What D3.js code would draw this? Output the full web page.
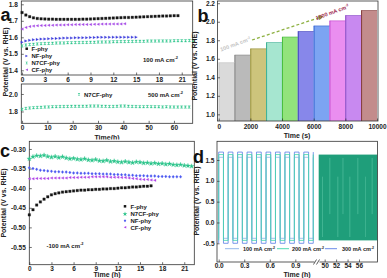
<!DOCTYPE html>
<html><head><meta charset="utf-8">
<script src="https://cdn.jsdelivr.net/npm/d3@7"></script>
<style>
body{margin:0;background:#fff}
svg{display:block}
text{font-family:"Liberation Sans",Arial,sans-serif;font-weight:bold}
</style>
</head><body>
<svg id="chart" width="387" height="278"></svg>
<script>
// ---------------- DATA ----------------
// Panel a (top): 100 mA cm-2, sampled every 0.5 h
const aStep = 0.5;
const aF = [1.750,1.735,1.725,1.718,1.714,1.712,1.711,1.710,1.710,1.709,1.709,1.709,1.709,1.709,1.709,1.709,1.710,1.710,1.711,1.712,1.713,1.714,1.715,1.716,1.717,1.718,1.719,1.720,1.720,1.721,1.722,1.723,1.724,1.725,1.726,1.727,1.728,1.729,1.729,1.730,1.731,1.731];
const aNF = [1.570,1.578,1.582,1.585,1.587,1.589,1.590,1.591,1.592,1.593,1.594,1.595,1.596,1.596,1.597,1.597,1.598,1.598,1.599,1.599,1.600,1.600,1.600,1.600,1.601,1.601,1.601,1.601,1.601,1.601,1.601];
const aN7CF = [1.548,1.553,1.556,1.558,1.560,1.561,1.562,1.563,1.564,1.565,1.566,1.566,1.567,1.567,1.568,1.568,1.569,1.569,1.570,1.570,1.571,1.571,1.572,1.572,1.573,1.573,1.574,1.574,1.575,1.575,1.576,1.576,1.576,1.577,1.577,1.577,1.578,1.578,1.578,1.578,1.579,1.579,1.579,1.579,1.580,1.580];
const aCF = [1.650,1.660,1.665,1.668,1.670,1.671,1.672,1.673,1.673,1.674,1.675,1.675,1.676,1.676,1.677,1.677,1.678,1.678,1.678,1.679,1.679,1.680,1.680,1.680,1.681,1.681,1.681,1.682];
// Panel a (bottom): N7CF-phy at 500 mA cm-2, sampled every 1.5 h
const a500Step = 1.5;
const a500 = [1.825,1.835,1.840,1.843,1.846,1.848,1.850,1.852,1.854,1.855,1.856,1.857,1.858,1.859,1.860,1.860,1.861,1.861,1.862,1.862,1.862,1.861,1.859,1.857,1.858,1.860,1.862,1.862,1.860,1.858,1.856,1.855,1.855,1.856,1.855,1.854,1.853,1.852,1.853,1.852,1.851,1.850,1.851,1.850,1.850];

// Panel b: multi-step chronopotentiometry
const bStarts = [0,1000,2000,3000,4000,5000,6000,7000,8000,9000];
const bValues = [1.558,1.640,1.708,1.775,1.835,1.895,1.955,2.010,2.068,2.122];
const bFills = ['#dadada','#bababa','#cdc47c','#a6e6d0','#92e37c','#8787ea','#7ca4f2','#ea8ef0','#c889f0','#c38c8c'];
const bEdges = ['#c4c4c4','#7a7a7a','#928c32','#2aa88a','#3cb834','#3a3ab8','#3060d0','#c040c8','#8040c0','#7a3030'];

// Panel c: -100 mA cm-2, sampled every 0.5 h
const cStep = 0.5;
const cF = [-0.468,-0.455,-0.443,-0.435,-0.428,-0.422,-0.417,-0.414,-0.412,-0.410,-0.409,-0.408,-0.407,-0.406,-0.405,-0.405,-0.404,-0.404,-0.403,-0.403,-0.402,-0.402,-0.401,-0.401,-0.400,-0.399,-0.399,-0.398,-0.397,-0.397,-0.396,-0.395,-0.395,-0.394];
const cN7CF = [-0.325,-0.320,-0.317,-0.318,-0.316,-0.319,-0.321,-0.319,-0.322,-0.320,-0.323,-0.325,-0.324,-0.326,-0.327,-0.325,-0.328,-0.329,-0.327,-0.330,-0.331,-0.329,-0.332,-0.331,-0.333,-0.334,-0.332,-0.334,-0.335,-0.333,-0.334,-0.336,-0.335,-0.337,-0.336,-0.338,-0.337,-0.339,-0.338,-0.340,-0.341,-0.340,-0.342,-0.343,-0.344];
const cNF = [-0.348,-0.350,-0.352,-0.354,-0.355,-0.356,-0.357,-0.358,-0.358,-0.359,-0.359,-0.360,-0.361,-0.361,-0.362,-0.362,-0.362,-0.363,-0.363,-0.363,-0.364,-0.364,-0.364,-0.365,-0.365,-0.366,-0.366,-0.367,-0.367,-0.368,-0.368,-0.368,-0.369,-0.369,-0.369,-0.370,-0.370,-0.370,-0.371,-0.371,-0.371,-0.371];
const cCF = [-0.376,-0.376,-0.375,-0.375,-0.375,-0.375,-0.374,-0.374,-0.374,-0.374,-0.374,-0.373,-0.373,-0.373,-0.372,-0.372,-0.372,-0.371,-0.371,-0.371,-0.371,-0.371,-0.372,-0.372,-0.372,-0.373,-0.373,-0.374,-0.375,-0.376,-0.377,-0.378,-0.378,-0.379,-0.380];

// Panel d: switching OER/HER cycles (h)
const dSwitch = [0,0.056,0.111,0.167,0.222,0.278,0.333,0.389,0.444,0.500,0.556,0.611,0.667,0.722,0.778,0.833,0.889,0.944,1.000,1.056,1.111];
const dLabels = ['100 mA cm','200 mA cm','300 mA cm'];
const dHigh = [1.565,1.630,1.690];
const dLow = [-0.380,-0.430,-0.500];
const dColors = ['#8ab0ea','#40d6aa','#5b7de6'];
const dDense = [48.95,59.2];            // long-term segment (h)
const dDenseLevels = [1.630,-0.430];
const dStripes = [49.6,50.9,52.3,53.2,54.4,55.8,57.1,58.3];

// tick labels
const aTopXTicks=[0,3,6,9,12,15,18,21], aTopYTicks=[1.4,1.5,1.6,1.7,1.8];
const aBotXTicks=[0,10,20,30,40,50,60], aBotYTicks=[1.8,2.0];
const bXTicks=[0,2000,4000,6000,8000,10000], bYTicks=[1.0,1.2,1.4,1.6,1.8,2.0,2.2];
const cXTicks=[0,3,6,9,12,15,18,21], cYTicks=[-0.55,-0.50,-0.45,-0.40,-0.35,-0.30];
const dX1Ticks=[0,0.3,0.6,0.9], dX2Ticks=[50,52,54,56], dYTicks=[-0.5,0.0,0.5,1.0,1.5];

// ---------------- DRAW ----------------
const svg = d3.select('#chart');
const FONT = '"Liberation Sans",Arial,sans-serif';
const COL = {F:'#151515', NF:'#3c3cdc', N7CF:'#2bc48a', CF:'#a64be6'};

const r = 1.25;
const SYM = {
  square: `M${-r},${-r}h${2*r}v${2*r}h${-2*r}Z`,
  triR: `M${-r},${-r}L${r},0L${-r},${r}Z`,
  triL: `M${r},${-r}L${-r},0L${r},${r}Z`,
  bow: `M${-r},${-r}L${r},${-r}L${-r},${r}L${r},${r}Z`,
  diamond: `M0,${-r*1.2}L${r},0L0,${r*1.2}L${-r},0Z`,
  star: d3.symbol(d3.symbolStar, 7)()
};

function frame(x0,y0,x1,y1){
  svg.append('rect').attr('x',x0).attr('y',y0).attr('width',x1-x0).attr('height',y1-y0)
    .attr('fill','none').attr('stroke','#333').attr('stroke-width',0.8);
}
function axis(scale, orient, ticks, fmt, pad, tx, ty, fs){
  const gen = (orient==='left'?d3.axisLeft:d3.axisBottom)(scale)
    .tickValues(ticks).tickFormat(fmt).tickSizeInner(-2.5).tickSizeOuter(0).tickPadding(pad);
  const g = svg.append('g').attr('transform',`translate(${tx},${ty})`).call(gen);
  g.attr('font-family',FONT).attr('font-size',fs||6.5).attr('font-weight','bold');
  g.select('.domain').remove();
  g.selectAll('line').attr('stroke','#333').attr('stroke-width',0.7);
  g.selectAll('text').attr('fill','#222');
  return g;
}
function ylabel(x,y,txt){
  svg.append('text').attr('transform',`translate(${x},${y}) rotate(-90)`).attr('text-anchor','middle')
    .attr('font-size',7).attr('fill','#222').text(txt);
}
function xlabel(x,y,txt){
  svg.append('text').attr('x',x).attr('y',y).attr('text-anchor','middle').attr('font-size',7).attr('fill','#222').text(txt);
}
function letter(x,y,t){
  svg.append('text').attr('x',x).attr('y',y).attr('font-size',18).attr('fill','#111').text(t);
}
function unitText(x,y,base,fs,color,rot){
  const t = svg.append('text').attr('x',x).attr('y',y).attr('font-size',fs).attr('fill',color||'#222');
  if(rot) t.attr('transform',`rotate(${rot},${x},${y})`).attr('text-anchor','middle');
  t.append('tspan').text(base);
  t.append('tspan').attr('dy',-fs*0.4).attr('font-size',fs*0.65).text('-2');
  return t;
}
function markers(xs, ys, data, step, sym, color){
  svg.append('g').selectAll('path').data(data).join('path')
    .attr('transform',(d,i)=>`translate(${xs(i*step)},${ys(d)})`)
    .attr('d',sym).attr('fill',color).attr('stroke',color).attr('stroke-width',0.3);
}

// ===== Panel a =====
const xA1 = d3.scaleLinear([-0.1,22.44],[21.3,192.7]);
const yA1 = d3.scaleLinear([1.3715,1.82],[75,1]);
const xA2 = d3.scaleLinear([-0.3,67.4],[21.3,192.7]);
const yA2 = d3.scaleLinear([1.665,2.114],[123.3,84]);

frame(21.3,1,192.7,75);
frame(21.3,84,192.7,123.3);
axis(yA1,'left',aTopYTicks,d=>d.toFixed(1),3.5,21.3,0);
axis(xA1,'bottom',aTopXTicks,d=>d,2.2,0,75);
axis(yA2,'left',aBotYTicks,d=>d.toFixed(1),3.5,21.3,0);
axis(xA2,'bottom',aBotXTicks,d=>d,2.2,0,123.3);

markers(xA1,yA1,aN7CF,aStep,SYM.bow,COL.N7CF);
markers(xA1,yA1,aNF,aStep,SYM.triR,COL.NF);
markers(xA1,yA1,aCF,aStep,SYM.triL,COL.CF);
markers(xA1,yA1,aF,aStep,SYM.square,COL.F);
markers(xA2,yA2,a500,a500Step,SYM.bow,COL.N7CF);

const aLeg = [['F-phy',SYM.square,COL.F],['NF-phy',SYM.triR,COL.NF],['N7CF-phy',SYM.bow,COL.N7CF],['CF-phy',SYM.triL,COL.CF]];
const aLegY = [48.7,56,63,69.7];
aLeg.forEach((l,i)=>{
  svg.append('path').attr('transform',`translate(26.7,${aLegY[i]})`).attr('d',l[1]).attr('fill',l[2]);
  svg.append('text').attr('x',31.5).attr('y',aLegY[i]+2.2).attr('font-size',6).attr('fill','#222').text(l[0]);
});
unitText(143,61.5,'100 mA cm',6,'#222');
svg.append('path').attr('transform','translate(79,94.3)').attr('d',SYM.bow).attr('fill',COL.N7CF);
svg.append('text').attr('x',84).attr('y',96.5).attr('font-size',6).attr('fill','#222').text('N7CF-phy');
unitText(148,96.5,'500 mA cm',6,'#222');

ylabel(7.5,62,'Potential (V vs. RHE)');
xlabel(107,140,'Time(h)');
letter(0.5,21,'a');

// ===== Panel b =====
const xB = d3.scaleLinear([-76,10063],[217.5,378]);
const yB = d3.scaleLinear([0.928,2.224],[121,1]);
svg.append('g').selectAll('rect').data(bValues).join('rect')
  .attr('x',(d,i)=>xB(bStarts[i])).attr('width',(d,i)=>xB(bStarts[i]+1000)-xB(bStarts[i]))
  .attr('y',d=>yB(d)).attr('height',d=>yB(0.928)-yB(d))
  .attr('fill',(d,i)=>bFills[i]);
svg.append('g').selectAll('line').data(bValues).join('line')
  .attr('x1',(d,i)=>xB(bStarts[i])+0.4).attr('x2',(d,i)=>xB(bStarts[i])+0.4)
  .attr('y1',d=>yB(d)).attr('y2',yB(0.928))
  .attr('stroke',(d,i)=>bEdges[i]).attr('stroke-width',0.9);
svg.append('g').selectAll('line').data(bValues).join('line')
  .attr('x1',(d,i)=>xB(bStarts[i])).attr('x2',(d,i)=>xB(bStarts[i]+1000))
  .attr('y1',d=>yB(d)).attr('y2',d=>yB(d))
  .attr('stroke',(d,i)=>bEdges[i]).attr('stroke-width',0.7).attr('opacity',0.8);
frame(217.5,1,378,121);
axis(yB,'left',bYTicks,d=>d.toFixed(1),2.5,217.5,0);
axis(xB,'bottom',bXTicks,d=>d,3.8,0,121);

// annotation arrow
const defs = svg.append('defs');
defs.append('marker').attr('id','ah').attr('viewBox','0 0 10 10').attr('refX',5).attr('refY',5)
  .attr('markerWidth',4).attr('markerHeight',4).attr('orient','auto')
  .append('path').attr('d','M0,0L10,5L0,10Z').attr('fill','#8db040');
svg.append('line').attr('x1',252).attr('y1',40).attr('x2',321).attr('y2',17)
  .attr('stroke','#8db040').attr('stroke-width',1.3).attr('stroke-dasharray','3,2.2').attr('marker-end','url(#ah)');
unitText(236,46,'100 mA cm',5.5,'#c4c4c4',-20);
unitText(333,14,'1000 mA cm',5.5,'#9c1f4d',-20);

ylabel(197,66,'Potential (V vs. RHE)');
xlabel(297,137.5,'Time (s)');
letter(197.5,22,'b');

// ===== Panel c =====
svg.append('rect').attr('x',0).attr('y',139.5).attr('width',387).attr('height',140).attr('fill','#fff');
const xC = d3.scaleLinear([0,22.36],[29.3,194.3]);
const yC = d3.scaleLinear([-0.5952,-0.2804],[264.7,141.3]);
frame(29.3,141.3,194.3,264.7);
axis(yC,'left',cYTicks,d=>d.toFixed(2),3.5,29.3,0);
axis(xC,'bottom',cXTicks,d=>d,2,0,264.7);
markers(xC,yC,cN7CF,cStep,SYM.star,COL.N7CF);
markers(xC,yC,cNF,cStep,SYM.diamond,'#4a58f0');
markers(xC,yC,cCF,cStep,SYM.triL,'#b044e8');
markers(xC,yC,cF,cStep,SYM.square,COL.F);
const cLeg = [['F-phy',SYM.square,COL.F],['N7CF-phy',SYM.star,COL.N7CF],['NF-phy',SYM.diamond,'#4a58f0'],['CF-phy',SYM.triL,'#b044e8']];
const cLegY = [206.3,214,220.7,227.3];
cLeg.forEach((l,i)=>{
  svg.append('path').attr('transform',`translate(125,${cLegY[i]})`).attr('d',l[1]).attr('fill',l[2]);
  svg.append('text').attr('x',130.5).attr('y',cLegY[i]+2.2).attr('font-size',6).attr('fill','#222').text(l[0]);
});
unitText(46.5,247.5,'-100 mA cm',6,'#222');
ylabel(6,203,'Potential (V vs. RHE)');
xlabel(107,277,'Time (h)');
letter(0,157,'c');

// ===== Panel d =====
const yD = d3.scaleLinear([-0.949,1.949],[262,141.3]);
const xD1 = d3.scaleLinear([-0.02,1.143],[217,316]);
const xD2 = d3.scaleLinear([48.83,59.24],[318,377.5]);
const stepLine = d3.line().x(p=>xD1(p[0])).y(p=>yD(p[1])).curve(d3.curveStepAfter);
[2,0,1].forEach(k=>{
  const pts = [[dSwitch[0],dLow[k]]].concat(dSwitch.map((t,i)=>[t, i%2===0?dHigh[k]:dLow[k]]));
  svg.append('path').attr('d',stepLine(pts)).attr('fill','none').attr('stroke',dColors[k]).attr('stroke-width',0.8);
});
svg.append('rect').attr('x',xD2(dDense[0])).attr('width',xD2(dDense[1])-xD2(dDense[0]))
  .attr('y',yD(dDenseLevels[0])).attr('height',yD(dDenseLevels[1])-yD(dDenseLevels[0])).attr('fill','#1f9e7a');
svg.append('g').selectAll('line').data(dStripes).join('line')
  .attr('x1',d=>xD2(d)).attr('x2',d=>xD2(d)).attr('y1',(d,i)=>yD(i%2?1.55:1.1)).attr('y2',(d,i)=>yD(i%2?0.2:-0.35))
  .attr('stroke','#7fdcbc').attr('stroke-width',0.5).attr('opacity',0.8);
frame(217,141.3,377.5,262);
axis(yD,'left',dYTicks,d=>d.toFixed(1),2.5,217,0);
axis(xD1,'bottom',dX1Ticks,d=>d.toFixed(1),1.5,0,262);
axis(xD2,'bottom',dX2Ticks,d=>d,1.5,0,262);
// axis break
svg.append('rect').attr('x',314.5).attr('y',259).attr('width',5).attr('height',6).attr('fill','#fff');
[313.5,316.5].forEach(x=>svg.append('line').attr('x1',x).attr('y1',264.5).attr('x2',x+3).attr('y2',259.5).attr('stroke','#333').attr('stroke-width',0.8));
// legend
const dLegX = [[225,239,243],[277,289,292],[325,337,342]];
dLegX.forEach((p,k)=>{
  svg.append('line').attr('x1',p[0]).attr('x2',p[1]).attr('y1',248.7).attr('y2',248.7).attr('stroke',dColors[k]).attr('stroke-width',0.9);
  unitText(p[2],250.7,dLabels[k],5.5,'#222');
});
ylabel(199,201,'Potential (V vs. RHE)');
xlabel(297,277,'Time (h)');
letter(193,163,'d');
</script>
</body></html>
